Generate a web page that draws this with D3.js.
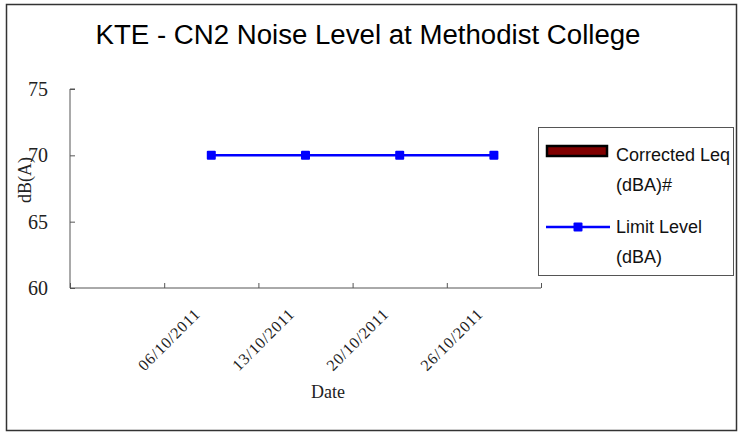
<!DOCTYPE html>
<html>
<head>
<meta charset="utf-8">
<script src="https://cdn.jsdelivr.net/npm/d3@7"></script>
<style>
  body { margin: 0; background: #fff; }
  svg { display: block; }
</style>
</head>
<body>
<svg id="chart" width="738" height="432"></svg>
<script>
// chart values
const dates = ["", "06/10/2011", "13/10/2011", "20/10/2011", "26/10/2011"];
const correctedLeq = [null, null, null, null, null];
const limitLevel = [null, 70, 70, 70, 70];
const yTicks = [60, 65, 70, 75];

const sans = "'Liberation Sans', Arial, sans-serif";
const serif = "'Liberation Serif', 'Times New Roman', serif";

const svg = d3.select("#chart");

// outer frame
svg.append("rect")
    .attr("x", 6.5).attr("y", 4.5)
    .attr("width", 730).attr("height", 426)
    .attr("fill", "#fff")
    .attr("stroke", "#333").attr("stroke-width", 1.5);

const plot = { left: 70, right: 541, top: 89, bottom: 288 };

const x = d3.scaleBand()
    .domain(d3.range(dates.length))
    .range([plot.left, plot.right])
    .padding(0);

const xEdge = d3.scaleLinear()
    .domain([0, dates.length])
    .range([plot.left, plot.right]);

const y = d3.scaleLinear()
    .domain([60, 75])
    .range([plot.bottom, plot.top]);

// title
svg.append("text")
    .attr("x", 368).attr("y", 44)
    .attr("text-anchor", "middle")
    .style("font-family", sans)
    .attr("font-size", 27)
    .attr("textLength", 545)
    .attr("lengthAdjust", "spacingAndGlyphs")
    .text("KTE - CN2 Noise Level at Methodist College");

// y axis
const yAxis = svg.append("g")
    .attr("transform", `translate(${plot.left},0)`)
    .call(d3.axisRight(y).tickValues(yTicks).tickSize(5).tickFormat(""));
yAxis.select(".domain").attr("stroke", "#555").attr("d", `M5,${plot.top}H0V${plot.bottom}`);
yAxis.selectAll(".tick line").attr("stroke", "#555");

svg.append("g").selectAll("text")
    .data(yTicks)
    .join("text")
    .attr("x", 48)
    .attr("y", d => y(d) + 7)
    .attr("text-anchor", "end")
    .style("font-family", serif)
    .attr("font-size", 20)
    .attr("fill", "#222")
    .text(d => d);

// x axis (ticks at category edges)
const xAxis = svg.append("g")
    .attr("transform", `translate(0,${plot.bottom})`)
    .call(d3.axisTop(xEdge).tickValues(d3.range(dates.length + 1)).tickSize(5).tickFormat(""));
xAxis.select(".domain").attr("stroke", "#555").attr("d", `M${plot.left},0H${plot.right}`);
xAxis.selectAll(".tick line").attr("stroke", "#555");

svg.append("g").selectAll("text")
    .data(dates)
    .join("text")
    .attr("transform", (d, i) => `translate(${x(i) + x.bandwidth() / 2 - 10},${plot.bottom + 27}) rotate(-45)`)
    .attr("text-anchor", "end")
    .style("font-family", serif)
    .attr("font-size", 16)
    .attr("letter-spacing", 0.8)
    .attr("fill", "#222")
    .text(d => d);

// axis titles
svg.append("text")
    .attr("x", 328).attr("y", 398)
    .attr("text-anchor", "middle")
    .style("font-family", serif)
    .attr("font-size", 18)
    .attr("fill", "#222")
    .text("Date");

svg.append("text")
    .attr("transform", "translate(31,180) rotate(-90)")
    .attr("text-anchor", "middle")
    .style("font-family", serif)
    .attr("font-size", 18)
    .attr("fill", "#222")
    .text("dB(A)");

// corrected Leq bars (no data)
svg.append("g").selectAll("rect")
    .data(correctedLeq.map((v, i) => ({ v, i })).filter(d => d.v != null))
    .join("rect")
    .attr("x", d => x(d.i) + x.bandwidth() * 0.25)
    .attr("width", x.bandwidth() * 0.5)
    .attr("y", d => y(d.v))
    .attr("height", d => plot.bottom - y(d.v))
    .attr("fill", "#800000").attr("stroke", "#000");

// limit level line
const limitPts = limitLevel.map((v, i) => ({ v, i })).filter(d => d.v != null);
const line = d3.line()
    .x(d => x(d.i) + x.bandwidth() / 2)
    .y(d => y(d.v));

svg.append("path")
    .datum(limitPts)
    .attr("d", line)
    .attr("fill", "none")
    .attr("stroke", "#0000ff")
    .attr("stroke-width", 2.5);

svg.append("g").selectAll("rect")
    .data(limitPts)
    .join("rect")
    .attr("x", d => x(d.i) + x.bandwidth() / 2 - 4.5)
    .attr("y", d => y(d.v) - 4.5)
    .attr("width", 9).attr("height", 9)
    .attr("rx", 1)
    .attr("fill", "#0000ff");

// legend
const legend = svg.append("g");
legend.append("rect")
    .attr("x", 538.5).attr("y", 127.5)
    .attr("width", 195).attr("height", 148)
    .attr("fill", "#fff")
    .attr("stroke", "#555").attr("stroke-width", 1);

legend.append("rect")
    .attr("x", 547).attr("y", 146)
    .attr("width", 60).attr("height", 10)
    .attr("fill", "#800000")
    .attr("stroke", "#000").attr("stroke-width", 2.5);

legend.append("line")
    .attr("x1", 546).attr("x2", 610)
    .attr("y1", 227).attr("y2", 227)
    .attr("stroke", "#0000ff").attr("stroke-width", 2.5);
legend.append("rect")
    .attr("x", 573.5).attr("y", 222.5)
    .attr("width", 9).attr("height", 9)
    .attr("rx", 1)
    .attr("fill", "#0000ff");

const legendLines = [
    ["Corrected Leq", 161],
    ["(dBA)#", 191],
    ["Limit Level", 233],
    ["(dBA)", 263]
];
legend.selectAll("text.lg")
    .data(legendLines)
    .join("text")
    .attr("class", "lg")
    .attr("x", 616)
    .attr("y", d => d[1])
    .style("font-family", sans)
    .attr("font-size", 18)
    .attr("fill", "#111")
    .text(d => d[0]);
</script>
</body>
</html>
